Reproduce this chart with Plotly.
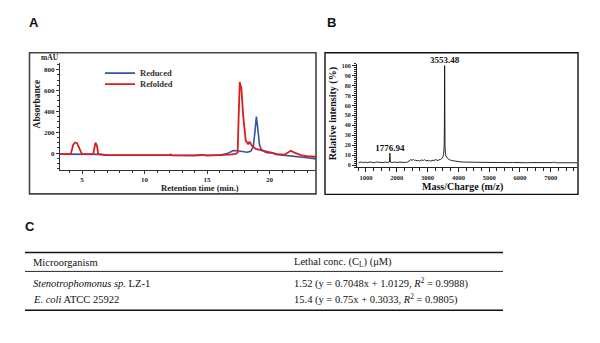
import plotly.graph_objects as go

# ---------------- Data ----------------
# Panel A: RP-HPLC chromatograms (retention time in min, absorbance in mAU)
reduced_time = [3.24, 5.0, 6.5, 7.0, 10.0, 12.0, 14.0, 15.0, 16.0, 16.6, 16.9, 17.1, 17.4, 17.8, 18.2,
                18.5, 18.7, 18.85, 18.95, 19.05, 19.2, 19.35, 19.6, 19.9, 20.2, 20.5, 21.0, 22.0, 23.0, 23.72]
reduced_abs = [-10, -10, -12, -20, -22, -21, -24, -24, -20, -5, 15, 25, 22, 12, 8,
               18, 60, 220, 350, 250, 80, 35, 12, 2, 5, -12, -20, -30, -45, -55]

refolded_time = [3.24, 4.1, 4.3, 4.45, 4.6, 4.9, 5.0, 5.9, 6.0, 6.08, 6.2, 6.3, 7.0, 8.0, 10.0, 12.0, 12.1,
                 12.2, 14.0, 14.6, 15.0, 16.0, 16.8, 17.3, 17.45, 17.55, 17.62, 17.75, 17.9, 18.1, 18.3,
                 18.4, 18.6, 18.9, 19.3, 19.6, 20.2, 20.6, 21.2, 21.5, 21.7, 22.0, 22.5, 23.0, 23.72]
refolded_abs = [-10, -10, 80, 102, 95, 10, -10, -10, 60, 100, 70, -10, -20, -20, -22, -20, -12,
                -22, -24, -18, -24, -22, -15, -8, 5, 420, 680, 620, 350, 120, 85,
                110, 70, 40, 30, 20, 5, -10, -15, 10, 22, 5, -20, -30, -35]

# Panel B: MALDI-TOF mass spectrum (m/z, relative intensity %)
mz = [760, 850, 920, 990, 1060, 1130, 1200, 1270, 1340, 1410, 1480, 1550, 1620, 1690, 1760, 1776.94,
      1790, 1860, 1930, 2000, 2070, 2140, 2210, 2280, 2350, 2420, 2460, 2500, 2540, 2580, 2620, 2660,
      2700, 2740, 2780, 2820, 2860, 2900, 2940, 2980, 3020, 3060, 3100, 3140, 3180, 3220, 3260, 3300,
      3340, 3380, 3420, 3460, 3500, 3520, 3540, 3548, 3553.48, 3558, 3566, 3580, 3600, 3640, 3700,
      3780, 3860, 3950, 4050, 4150, 4250, 4350, 4450, 4550, 4650, 4750, 4850, 4950, 5050, 5150, 5250,
      5350, 5450, 5550, 5650, 5750, 5850, 5950, 6050, 6150, 6250, 6350, 6450, 6550, 6650, 6750, 6850,
      6950, 7050, 7100, 7150, 7250, 7350, 7450, 7550, 7650, 7750, 7850]
intensity = [2.6, 3.0, 2.4, 2.9, 2.5, 3.1, 2.7, 2.4, 3.0, 2.6, 2.9, 2.5, 3.0, 2.6, 3.0, 12.0,
             3.0, 2.6, 3.0, 2.5, 2.9, 2.7, 3.1, 2.6, 3.0, 4.5, 5.5, 4.8, 5.6, 4.6, 4.9, 4.2,
             4.6, 4.0, 4.8, 5.2, 4.5, 5.4, 4.3, 4.8, 4.1, 4.6, 4.0, 4.4, 4.9, 4.2, 6.0, 4.5,
             4.7, 5.0, 5.6, 6.5, 8.5, 11.0, 20.0, 55.0, 100.0, 50.0, 18.0, 12.0, 9.0, 7.0, 5.5,
             4.5, 4.0, 3.5, 3.3, 3.0, 2.9, 2.7, 2.8, 2.6, 2.7, 2.5, 2.6, 2.5, 2.6, 2.4, 2.5,
             2.6, 2.4, 2.5, 2.4, 2.6, 2.4, 2.5, 2.4, 2.5, 2.3, 2.5, 2.4, 2.3, 2.5, 2.4, 2.3,
             2.5, 2.4, 3.0, 2.4, 2.3, 2.4, 2.3, 2.4, 2.3, 2.4, 2.3]
peak_labels_mz = [1776.94, 3553.48]
peak_labels_int = [12.0, 100.0]

# Panel C: table
table_header = ["Microorganism", "Lethal conc. (C<sub>L</sub>) (μM)"]
organisms = ["<i>Stenotrophomonus sp.</i> LZ-1", "<i>E. coli</i> ATCC 25922"]
lethal_conc = ["1.52 (y = 0.7048x + 1.0129, <i>R</i><sup>2</sup> = 0.9988)",
               "15.4 (y = 0.75x + 0.3033, <i>R</i><sup>2</sup> = 0.9805)"]

# ---------------- Layout helpers ----------------
W, H = 600, 343
def px(x):
    return x / W
def py(y):
    return 1 - y / H

SERIF = "Liberation Serif"
SANS = "Liberation Sans"

fig = go.Figure()

fig.add_trace(go.Scatter(x=reduced_time, y=reduced_abs, mode="lines", name="Reduced",
                         line=dict(color="#3553a6", width=1.6), xaxis="x", yaxis="y",
                         legend="legend"))
fig.add_trace(go.Scatter(x=refolded_time, y=refolded_abs, mode="lines", name="Refolded",
                         line=dict(color="#d81e1e", width=1.8), xaxis="x", yaxis="y",
                         legend="legend2"))
fig.add_trace(go.Scatter(x=mz, y=intensity, mode="lines", name="Spectrum", showlegend=False,
                         line=dict(color="#111111", width=0.9), xaxis="x2", yaxis="y2"))
fig.add_trace(go.Scatter(x=peak_labels_mz, y=peak_labels_int, mode="text",
                         text=[f"{v:.2f}" for v in peak_labels_mz], textposition="top center",
                         textfont=dict(family=SERIF, size=9, color="#111", weight="bold"),
                         showlegend=False, xaxis="x2", yaxis="y2", cliponaxis=False))

tick_font = dict(family=SERIF, size=7, color="#222", weight="bold")

fig.update_layout(
    width=W, height=H, margin=dict(l=0, r=0, t=0, b=0),
    paper_bgcolor="white", plot_bgcolor="rgba(0,0,0,0)",
    showlegend=True,
    xaxis=dict(domain=[px(60), px(316)], range=[3.24, 23.72], anchor="y",
               tickvals=[5, 10, 15, 20], ticks="outside", ticklen=3, tickwidth=1,
               tickcolor="#333", showline=True, linecolor="#333", linewidth=1,
               showgrid=False, zeroline=False, tickfont=tick_font,
               minor=dict(dtick=1, tick0=0, ticks="outside", ticklen=2, tickcolor="#333")),
    yaxis=dict(domain=[py(170), py(62)], range=[-162, 867], anchor="x",
               tickvals=[0, 200, 400, 600, 800], ticks="outside", ticklen=3, tickwidth=1,
               tickcolor="#333", showline=True, linecolor="#333", linewidth=1,
               showgrid=False, zeroline=False, tickfont=tick_font,
               minor=dict(dtick=50, tick0=0, ticks="outside", ticklen=2, tickcolor="#333")),
    xaxis2=dict(domain=[px(357), px(577)], range=[708, 7851], anchor="y2",
                tickvals=[1000, 2000, 3000, 4000, 5000, 6000, 7000], ticks="outside",
                ticklen=4, tickwidth=1, tickcolor="#222", showline=True, linecolor="#222",
                linewidth=1, showgrid=False, zeroline=False,
                tickfont=dict(family=SERIF, size=6.5, color="#222", weight="bold"),
                minor=dict(dtick=250, tick0=0, ticks="outside", ticklen=3, tickcolor="#222")),
    yaxis2=dict(domain=[py(167), py(63)], range=[-2, 102], anchor="x2",
                tickvals=list(range(0, 101, 10)), ticks="outside", ticklen=4, tickwidth=1,
                tickcolor="#222", showline=True, linecolor="#222", linewidth=1,
                showgrid=False, zeroline=False,
                tickfont=dict(family=SERIF, size=6, color="#222", weight="bold"),
                minor=dict(dtick=2, tick0=0, ticks="outside", ticklen=2, tickcolor="#222")),
    legend=dict(x=px(100), y=py(58), xanchor="left", yanchor="top",
                bgcolor="rgba(0,0,0,0)", itemwidth=30,
                font=dict(family=SERIF, size=8.5, color="#333", weight="bold")),
    legend2=dict(x=px(100), y=py(69), xanchor="left", yanchor="top",
                 bgcolor="rgba(0,0,0,0)", itemwidth=30,
                 font=dict(family=SERIF, size=8.5, color="#333", weight="bold")),
)

shapes = [
    # panel frames
    dict(type="rect", xref="paper", yref="paper", x0=px(29.5), x1=px(316), y0=py(194), y1=py(52),
         line=dict(color="#444", width=1.6), fillcolor="rgba(0,0,0,0)", layer="above"),
    dict(type="rect", xref="paper", yref="paper", x0=px(325), x1=px(578), y0=py(194.5), y1=py(52),
         line=dict(color="#111", width=1.4), fillcolor="rgba(0,0,0,0)", layer="above"),
    # table rules
    dict(type="line", xref="paper", yref="paper", x0=px(25), x1=px(503), y0=py(253), y1=py(253),
         line=dict(color="#111", width=1.4)),
    dict(type="line", xref="paper", yref="paper", x0=px(25), x1=px(503), y0=py(272), y1=py(272),
         line=dict(color="#111", width=0.9)),
    dict(type="line", xref="paper", yref="paper", x0=px(25), x1=px(503), y0=py(311), y1=py(311),
         line=dict(color="#111", width=1.4)),
]
fig.update_layout(shapes=shapes)

ann = []
def add_text(text, x, y, size, family=SERIF, weight="normal", xanchor="center", angle=0, color="#222"):
    ann.append(dict(text=text, x=px(x), y=py(y), xref="paper", yref="paper", showarrow=False,
                    xanchor=xanchor, yanchor="middle", textangle=angle,
                    font=dict(family=family, size=size, color=color, weight=weight)))

# panel labels
add_text("A", 34, 22, 13, family=SANS, weight="bold", color="#111")
add_text("B", 331, 22, 13, family=SANS, weight="bold", color="#111")
add_text("C", 30, 227, 13, family=SANS, weight="bold", color="#111")
# panel A titles
add_text("mAU", 50, 57, 7.5, weight="bold")
add_text("Absorbance", 37, 104, 9.5, weight="bold", angle=-90)
add_text("Retention time (min.)", 200, 188.5, 8.5, weight="bold")
# panel B titles
add_text("Relative intensity (%)", 333, 114, 10, weight="bold", angle=-90, color="#111")
add_text("Mass/Charge (m/z)", 463, 187, 10, weight="bold", color="#111")
# table
col_x = [31, 292]
add_text(table_header[0], col_x[0], 263, 10.5, xanchor="left", color="#111")
add_text(table_header[1], col_x[1], 263, 10.5, xanchor="left", color="#111")
row_y = [284, 300]
for i in range(len(organisms)):
    add_text(organisms[i], col_x[0], row_y[i], 10.5, xanchor="left", color="#111")
    add_text(lethal_conc[i], col_x[1], row_y[i], 10.5, xanchor="left", color="#111")

fig.update_layout(annotations=ann)

fig.write_html("out.html", config={"displayModeBar": False},
               post_script="document.body.style.margin='0';")
